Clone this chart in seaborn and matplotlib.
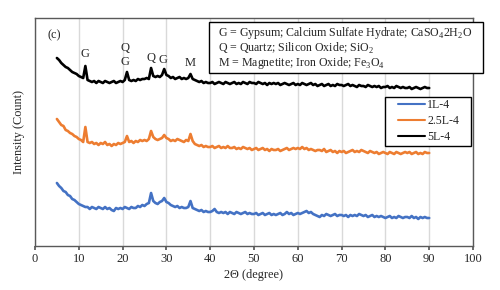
import numpy as np
import pandas as pd
import matplotlib
matplotlib.use("Agg")
import matplotlib.pyplot as plt
from matplotlib.patches import Rectangle
import seaborn as sns

# 2-theta scan grid (degrees), 0.5 degree step from 5 to 90
two_theta = np.arange(5.0, 90.01, 0.5)

# relative intensities (arbitrary count units, stacked traces)
int_1L4 = [63, 60, 58, 55, 54, 51, 50, 47, 46, 44,
           42, 41, 40, 39, 39, 37, 39, 38, 37, 39,
           38, 37, 39, 37, 38, 36, 35, 38, 37, 38,
           37, 39, 38, 37, 39, 38, 38, 40, 39, 41,
           40, 42, 43, 53, 45, 43, 42, 44, 45, 48,
           44, 43, 41, 40, 39, 40, 38, 39, 38, 38,
           39, 45, 38, 37, 36, 35, 36, 34, 35, 34,
           34, 35, 37, 34, 33, 34, 33, 34, 32, 34,
           33, 32, 34, 33, 32, 33, 34, 32, 33, 32,
           32, 33, 31, 32, 33, 31, 32, 33, 31, 32,
           31, 32, 33, 31, 32, 34, 32, 33, 31, 32,
           33, 32, 33, 34, 35, 33, 34, 32, 31, 30,
           29, 31, 30, 32, 31, 30, 31, 32, 30, 31,
           31, 30, 31, 29, 31, 30, 31, 30, 32, 31,
           30, 31, 29, 30, 31, 29, 30, 29, 30, 29,
           28, 29, 30, 28, 29, 28, 30, 29, 28, 29,
           29, 28, 30, 28, 29, 27, 29, 28, 29, 28,
           28]

int_25L4 = [127, 124, 121, 120, 116, 115, 113, 112, 110, 109,
            107, 106, 104, 119, 104, 103, 104, 102, 103, 101,
            103, 102, 104, 101, 102, 100, 102, 101, 103, 102,
            103, 104, 110, 104, 105, 103, 105, 104, 106, 105,
            106, 105, 107, 115, 109, 107, 106, 107, 108, 111,
            108, 107, 105, 106, 105, 107, 106, 105, 104, 106,
            105, 112, 105, 102, 101, 100, 101, 99, 100, 99,
            99, 100, 98, 99, 100, 98, 99, 98, 100, 98,
            98, 99, 97, 98, 97, 99, 98, 97, 98, 96,
            97, 98, 96, 97, 98, 96, 97, 95, 97, 96,
            96, 97, 95, 96, 97, 98, 96, 97, 98, 97,
            98, 97, 99, 97, 98, 96, 97, 96, 95, 96,
            96, 95, 97, 94, 95, 96, 94, 95, 93, 95,
            94, 95, 93, 94, 95, 96, 94, 95, 94, 96,
            95, 94, 93, 95, 94, 93, 94, 92, 93, 94,
            93, 92, 94, 93, 92, 94, 93, 92, 93, 94,
            93, 94, 92, 93, 94, 92, 93, 92, 94, 93,
            93]

int_5L4 = [188, 186, 183, 181, 179, 178, 176, 174, 173, 172,
           170, 169, 168, 180, 166, 165, 164, 165, 163, 165,
           164, 163, 165, 164, 163, 164, 165, 163, 164, 165,
           164, 166, 174, 166, 165, 166, 165, 167, 166, 167,
           167, 168, 167, 178, 170, 169, 170, 169, 171, 177,
           171, 170, 168, 169, 167, 168, 169, 167, 168, 167,
           168, 172, 167, 166, 165, 164, 165, 163, 164, 163,
           163, 164, 162, 163, 164, 163, 162, 164, 163, 162,
           163, 164, 162, 163, 162, 164, 163, 162, 164, 163,
           163, 162, 164, 163, 162, 163, 161, 163, 162, 163,
           162, 163, 161, 162, 163, 162, 161, 162, 163, 161,
           162, 161, 163, 162, 161, 162, 163, 161, 162, 160,
           161, 162, 160, 161, 162, 160, 161, 160, 162, 161,
           161, 160, 161, 162, 160, 161, 160, 159, 161, 160,
           160, 159, 161, 160, 159, 160, 159, 160, 158, 159,
           159, 160, 158, 159, 158, 160, 159, 158, 159, 158,
           158, 159, 157, 158, 159, 158, 157, 158, 159, 158,
           158]

samples = ["1L-4", "2.5L-4", "5L-4"]
colors = ["#4472C4", "#ED7D31", "#000000"]

# peak labels above the 5L-4 trace
peak_labels = ["G", "Q", "G", "Q", "G", "M"]
peak_pos = [11.5, 20.6, 20.6, 26.4, 29.3, 35.5]
peak_y = [192, 198, 184, 188, 186, 183]

legend_lines = ["G = Gypsum; Calcium Sulfate Hydrate; CaSO$_\\mathregular{4}$2H$_\\mathregular{2}$O",
                "Q = Quartz; Silicon Oxide; SiO$_\\mathregular{2}$",
                "M = Magnetite; Iron Oxide; Fe$_\\mathregular{3}$O$_\\mathregular{4}$"]

df = pd.concat([
    pd.DataFrame({"two_theta": two_theta, "intensity": vals, "sample": name})
    for name, vals in zip(samples, [int_1L4, int_25L4, int_5L4])
])

sns.set_theme(style="white")
plt.rcParams["font.family"] = ["Liberation Serif", "DejaVu Serif"]
plt.rcParams["mathtext.fontset"] = "custom"
plt.rcParams["mathtext.rm"] = "Liberation Serif"

fig, ax = plt.subplots(figsize=(5, 2.9), dpi=100)
fig.subplots_adjust(left=35/500, right=473/500, top=1-18/290, bottom=1-246/290)

sns.lineplot(data=df, x="two_theta", y="intensity", hue="sample", hue_order=samples,
             palette=colors, estimator=None, linewidth=1.9, ax=ax, legend=True)

ax.set_xlim(0, 100)
ax.set_ylim(0, 228)
ax.set_xticks(range(0, 101, 10))
ax.set_yticks([])
ax.grid(axis="x", color="#d9d9d9", linewidth=1)
ax.set_axisbelow(True)
ax.tick_params(axis="x", labelsize=9, length=3, color="#595959", pad=2, bottom=True)
for s in ax.spines.values():
    s.set_color("#595959")
    s.set_linewidth(1)

ax.set_xlabel("2Θ (degree)", fontsize=8.8, labelpad=3)
ax.set_ylabel("Intensity (Count)", fontsize=8.8, labelpad=7)

ax.text(4.3, 211, "(c)", fontsize=8.8, ha="center", va="center")
for lab, xp, yp in zip(peak_labels, peak_pos, peak_y):
    ax.text(xp, yp, lab, fontsize=9, ha="center", va="center")

# phase key box
fig.patches.append(Rectangle((209/500, 1-73/290), 274/500, 51/290, transform=fig.transFigure,
                             facecolor="white", edgecolor="black", linewidth=1, zorder=5))
for i, line in enumerate(legend_lines):
    fig.text(218/500, 1-(33 + 15*i)/290, line, fontsize=8.6, va="center", ha="left", zorder=6)

# series legend on the figure, frame drawn by hand so the padding matches
handles, labels = ax.get_legend_handles_labels()
ax.get_legend().remove()
fig.patches.append(Rectangle((385/500, 1-146/290), 86/500, 49/290, transform=fig.transFigure,
                             facecolor="white", edgecolor="black", linewidth=1, zorder=5))
leg = fig.legend(handles, labels, loc="upper left", bbox_to_anchor=(398/500, 1-99/290),
                 bbox_transform=fig.transFigure, fontsize=8.6, frameon=False,
                 handlelength=2.3, handletextpad=0.15, labelspacing=0.33,
                 borderpad=0, borderaxespad=0)
leg.set_zorder(6)
for h in leg.get_lines():
    h.set_linewidth(1.5)

fig.savefig("out.png", dpi=100)
